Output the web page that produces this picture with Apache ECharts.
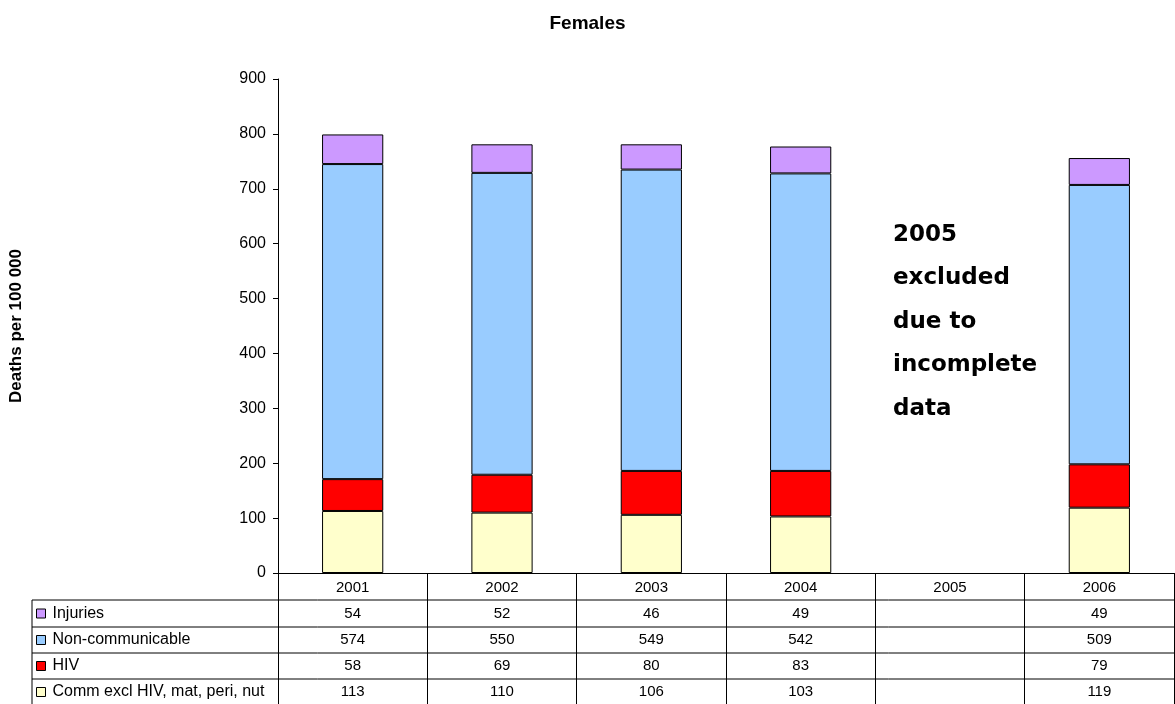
<!DOCTYPE html>
<html>
<head>
<meta charset="utf-8">
<script src="https://cdn.jsdelivr.net/npm/echarts@6/dist/echarts.min.js"></script>
<style>
  html, body { margin: 0; padding: 0; background: #fff; }
  #chart { width: 1175px; height: 704px; }
</style>
</head>
<body>
<div id="chart"></div>
<script>
const years = ['2001', '2002', '2003', '2004', '2005', '2006'];
const comm = [113, 110, 106, 103, null, 119];
const hiv = [58, 69, 80, 83, null, 79];
const nonComm = [574, 550, 549, 542, null, 509];
const injuries = [54, 52, 46, 49, null, 49];
const yTicks = [0, 100, 200, 300, 400, 500, 600, 700, 800, 900];

// table rows, top to bottom
const tableRows = [
    {name: 'Injuries', data: injuries, color: '#CC99FF'},
    {name: 'Non-communicable', data: nonComm, color: '#99CCFF'},
    {name: 'HIV', data: hiv, color: '#FF0000'},
    {name: 'Comm excl HIV, mat, peri, nut', data: comm, color: '#FFFFCC'}
];

const W = 1175, H = 704;
const gridLeft = 278, gridRight = 1174, gridTop = 79, gridBottom = 573;
const tableLeft = 32;
const headRowBottom = 600;
const rowLines = [600, 627, 653, 679, 705];
const font = 'Arial, "Liberation Sans", sans-serif';

const chart = echarts.init(document.getElementById('chart'));

const barSeries = [...tableRows].reverse().map(r => ({
    name: r.name,
    type: 'bar',
    stack: 'total',
    barWidth: '41%',
    data: r.data,
    itemStyle: {color: r.color, borderColor: '#000', borderWidth: 1},
    emphasis: {disabled: true}
}));

// extra x axes carry the numbers of each table row
const rowAxes = tableRows.map((r, k) => ({
    type: 'category',
    data: years,
    gridIndex: 0,
    position: 'bottom',
    offset: (rowLines[k] + rowLines[k + 1]) / 2 - gridBottom,
    axisLine: {show: false},
    axisTick: {show: false},
    axisLabel: {
        interval: 0,
        margin: 0,
        verticalAlign: 'middle',
        color: '#000',
        fontSize: 15,
        fontFamily: font,
        formatter: (v, i) => r.data[i] == null ? '' : String(r.data[i])
    }
}));

const legends = tableRows.map((r, k) => ({
    data: [r.name],
    orient: 'horizontal',
    left: tableLeft + 4,
    top: (rowLines[k] + rowLines[k + 1]) / 2 - 8,
    padding: 0,
    itemWidth: 9,
    itemHeight: 9,
    selectedMode: false,
    icon: 'rect',
    itemStyle: {borderColor: '#000', borderWidth: 1},
    textStyle: {color: '#000', fontSize: 16, lineHeight: 16, fontFamily: font, padding: [0, 0, 0, 2]}
}));

const graphics = [];
rowLines.forEach(y => {
    graphics.push({
        type: 'line',
        shape: {x1: tableLeft, y1: y, x2: gridRight, y2: y},
        style: {stroke: '#000', lineWidth: 1}
    });
});
graphics.push({
    type: 'line',
    shape: {x1: tableLeft, y1: headRowBottom, x2: tableLeft, y2: H},
    style: {stroke: '#000', lineWidth: 1}
});
graphics.push({
    type: 'text',
    left: 893,
    top: 213,
    style: {
        text: '2005\nexcluded\ndue to\nincomplete\ndata',
        font: 'bold 23px "DejaVu Sans", Verdana, sans-serif',
        lineHeight: 43.5,
        fill: '#000'
    }
});

chart.setOption({
    animation: false,
    title: {
        text: 'Females',
        left: 'center',
        top: 9,
        textStyle: {fontSize: 19, fontWeight: 'bold', fontFamily: font, color: '#000'}
    },
    legend: legends,
    grid: {
        left: gridLeft,
        right: W - gridRight,
        top: gridTop,
        bottom: H - gridBottom,
        containLabel: false,
        outerBoundsMode: 'none'
    },
    xAxis: [{
        type: 'category',
        data: years,
        axisLine: {show: true, lineStyle: {color: '#000', width: 1}},
        axisTick: {show: true, interval: 0, length: H - gridBottom, lineStyle: {color: '#000'}},
        axisLabel: {
            interval: 0,
            margin: 15,
            verticalAlign: 'middle',
            color: '#000',
            fontSize: 15,
            fontFamily: font
        }
    }, ...rowAxes],
    yAxis: {
        type: 'value',
        min: yTicks[0],
        max: yTicks[yTicks.length - 1],
        interval: 100,
        name: 'Deaths per 100 000',
        nameLocation: 'middle',
        nameGap: 253,
        nameTextStyle: {fontSize: 17, fontWeight: 'bold', fontFamily: font, color: '#000'},
        axisLine: {show: true, lineStyle: {color: '#000', width: 1}},
        axisTick: {show: true, length: 5, lineStyle: {color: '#000'}},
        axisLabel: {color: '#000', fontSize: 16, fontFamily: font, margin: 12},
        splitLine: {show: false}
    },
    series: barSeries,
    graphic: graphics
});
</script>
</body>
</html>
